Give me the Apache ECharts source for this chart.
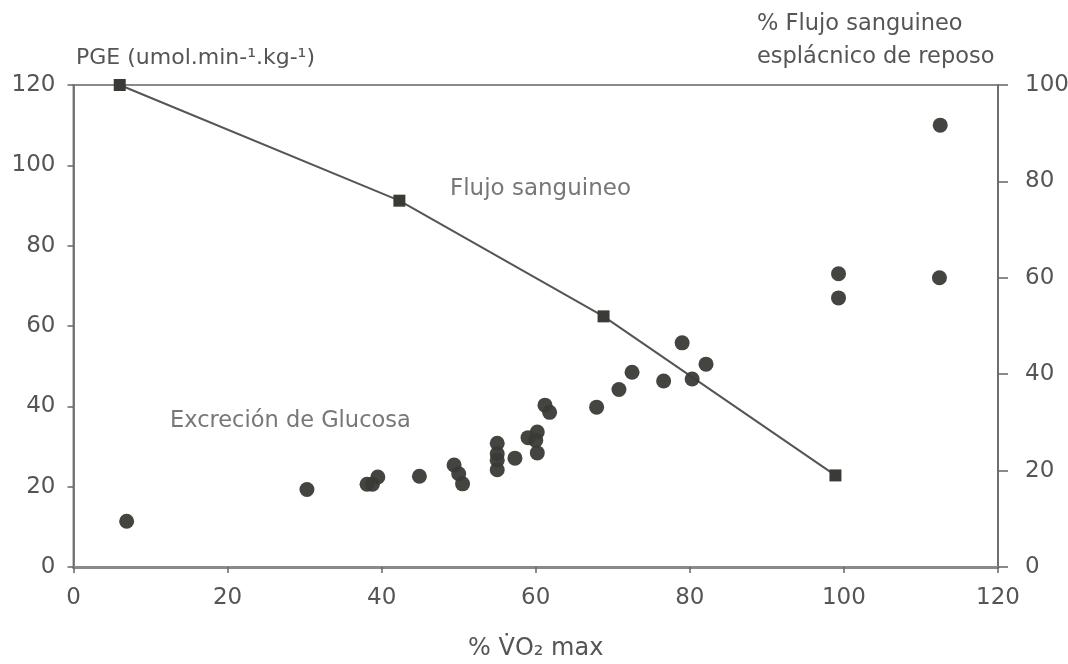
<!DOCTYPE html>
<html>
<head>
<meta charset="utf-8">
<script src="https://cdn.jsdelivr.net/npm/echarts@6/dist/echarts.min.js"></script>
<style>
  html, body { margin: 0; padding: 0; background: #fff; }
  #chart { width: 1068px; height: 664px; }
</style>
</head>
<body>
<div id="chart"></div>
<script>
// Excrecion de glucosa (eje izquierdo, PGE)
var excrecionX = [6.9, 30.3, 38.1, 38.8, 39.5, 44.9, 49.4, 50, 50.5, 55, 55, 55, 55, 57.3, 59, 60.2, 60, 60.2, 61.2, 61.8, 67.9, 70.8, 72.5, 76.6, 79, 80.3, 82.1, 99.3, 99.3, 112.5, 112.4];
var excrecionY = [11.4, 19.3, 20.6, 20.6, 22.4, 22.6, 25.4, 23.2, 20.7, 30.8, 28.2, 26.6, 24.2, 27.1, 32.2, 33.6, 31.5, 28.4, 40.3, 38.5, 39.8, 44.2, 48.5, 46.3, 55.8, 46.8, 50.5, 73, 67, 110, 72];

// Flujo sanguineo esplacnico (eje derecho, %)
var flujoX = [6, 42.3, 68.8, 98.9];
var flujoY = [100, 76, 52, 19];

var xTicks = [0, 20, 40, 60, 80, 100, 120];

var font = 'DejaVu Sans';
var grey = '#555';

function pairs(xs, ys) {
  return xs.map(function (x, i) { return [x, ys[i]]; });
}

var chart = echarts.init(document.getElementById('chart'));
chart.setOption({
  animation: false,
  backgroundColor: '#fff',
  grid: {
    left: 73.5, right: 70, top: 85, bottom: 97,
    outerBoundsMode: 'none', containLabel: false,
    show: true, borderColor: '#8a8a8a', borderWidth: 2
  },
  xAxis: {
    type: 'value', min: xTicks[0], max: xTicks[xTicks.length - 1], interval: 20,
    name: '% V\u0307O\u2082 max', nameLocation: 'middle', nameGap: 70,
    nameTextStyle: { fontFamily: font, fontSize: 24, color: grey },
    axisLine: { lineStyle: { color: '#8a8a8a', width: 3 } },
    axisTick: { show: true, inside: false, length: 6, lineStyle: { color: '#666', width: 1.5 } },
    axisLabel: { fontFamily: font, fontSize: 23, color: grey, margin: 20 },
    splitLine: { show: false }
  },
  yAxis: [
    {
      type: 'value', min: 0, max: 120, interval: 20, position: 'left',
      axisLine: { show: true, lineStyle: { color: '#666', width: 1.5 } },
      axisTick: { show: true, length: 6, lineStyle: { color: '#666', width: 1.5 } },
      axisLabel: { fontFamily: font, fontSize: 23, color: grey, margin: 18 },
      splitLine: { show: false }
    },
    {
      type: 'value', min: 0, max: 100, interval: 20, position: 'right',
      axisLine: { show: true, lineStyle: { color: '#666', width: 1.5 } },
      axisTick: { show: true, length: 10, lineStyle: { color: '#666', width: 1.5 } },
      axisLabel: { fontFamily: font, fontSize: 23, color: grey, margin: 27 },
      splitLine: { show: false }
    }
  ],
  graphic: [
    { type: 'text', left: 76, top: 47, style: { text: 'PGE (umol.min-\u00b9.kg-\u00b9)', fontFamily: font, fontSize: 22, fill: grey } },
    { type: 'text', left: 757, top: 8, style: { text: '% Flujo sanguineo\nesplácnico de reposo', fontFamily: font, fontSize: 22.5, lineHeight: 33, fill: grey } },
    { type: 'text', left: 450, top: 178, style: { text: 'Flujo sanguineo', fontFamily: font, fontSize: 23, fill: '#777' } },
    { type: 'text', left: 170, top: 410, style: { text: 'Excreción de Glucosa', fontFamily: font, fontSize: 22.5, fill: '#777' } }
  ],
  series: [
    {
      name: 'Flujo sanguineo', type: 'line', yAxisIndex: 1,
      data: pairs(flujoX, flujoY),
      symbol: 'rect', symbolSize: 12,
      lineStyle: { color: '#555', width: 2 },
      itemStyle: { color: '#3a3a36' },
      z: 3
    },
    {
      name: 'Excreción de Glucosa', type: 'scatter', yAxisIndex: 0,
      data: pairs(excrecionX, excrecionY),
      symbol: 'circle', symbolSize: 15,
      itemStyle: { color: '#3a3a36', opacity: 0.95 },
      z: 4
    }
  ]
});
</script>
</body>
</html>
